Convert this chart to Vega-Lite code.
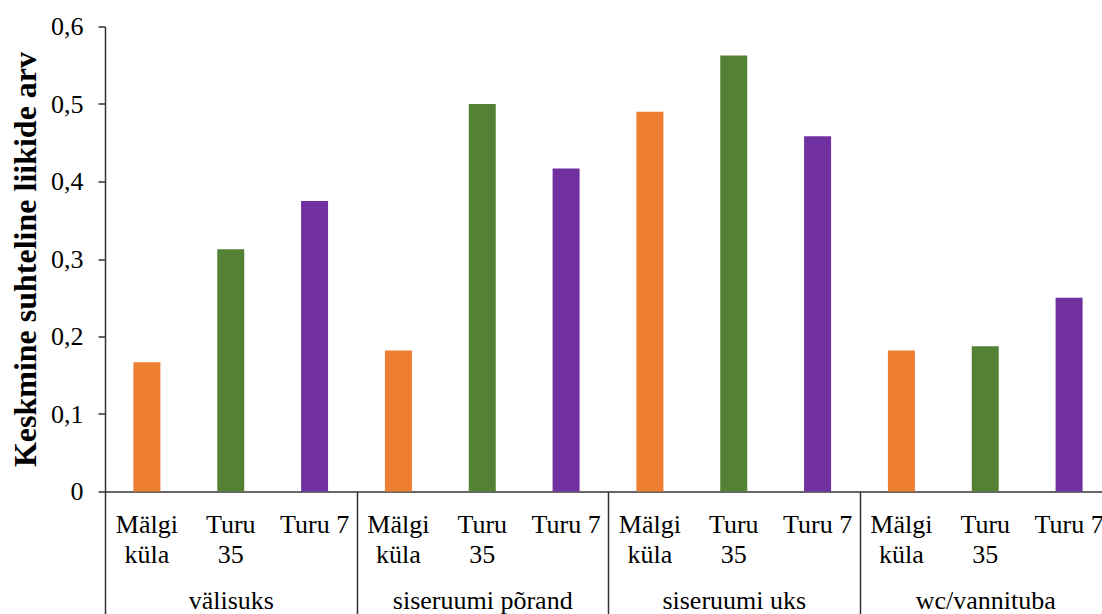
{
  "$schema": "https://vega.github.io/schema/vega-lite/v6.json",
  "width": 997,
  "height": 465,
  "autosize": {"type": "none"},
  "padding": {"left": 105, "top": 26.5, "right": 0, "bottom": 122.5},
  "background": "white",
  "config": {
    "view": {"stroke": null},
    "font": "Liberation Serif",
    "axis": {
      "grid": false,
      "domainColor": "#333333",
      "tickColor": "#333333",
      "domainWidth": 1.5,
      "tickWidth": 1.5,
      "labelColor": "#000000",
      "titleColor": "#000000",
      "labelFont": "Liberation Serif",
      "titleFont": "Liberation Serif"
    }
  },
  "data": {
    "values": [
      {"ala": "välisuks", "koht": "Mälgi küla", "silt": "Mälgi\nküla", "vaartus": 0.1667},
      {"ala": "välisuks", "koht": "Turu 35", "silt": "Turu\n35", "vaartus": 0.3125},
      {"ala": "välisuks", "koht": "Turu 7", "silt": "Turu 7", "vaartus": 0.375},
      {"ala": "siseruumi põrand", "koht": "Mälgi küla", "silt": "Mälgi\nküla", "vaartus": 0.1818},
      {"ala": "siseruumi põrand", "koht": "Turu 35", "silt": "Turu\n35", "vaartus": 0.5},
      {"ala": "siseruumi põrand", "koht": "Turu 7", "silt": "Turu 7", "vaartus": 0.4167},
      {"ala": "siseruumi uks", "koht": "Mälgi küla", "silt": "Mälgi\nküla", "vaartus": 0.49},
      {"ala": "siseruumi uks", "koht": "Turu 35", "silt": "Turu\n35", "vaartus": 0.5625},
      {"ala": "siseruumi uks", "koht": "Turu 7", "silt": "Turu 7", "vaartus": 0.4583},
      {"ala": "wc/vannituba", "koht": "Mälgi küla", "silt": "Mälgi\nküla", "vaartus": 0.1818},
      {"ala": "wc/vannituba", "koht": "Turu 35", "silt": "Turu\n35", "vaartus": 0.1875},
      {"ala": "wc/vannituba", "koht": "Turu 7", "silt": "Turu 7", "vaartus": 0.25}
    ]
  },
  "encoding": {
    "x": {
      "field": "ala",
      "type": "nominal",
      "sort": ["välisuks", "siseruumi põrand", "siseruumi uks", "wc/vannituba"],
      "scale": {"range": [0, 1006], "paddingInner": 0, "paddingOuter": 0},
      "axis": {
        "title": null,
        "labelAngle": 0,
        "tickBand": "extent",
        "tickSize": 130,
        "labelPadding": -34,
        "labelFontSize": 26
      }
    },
    "xOffset": {
      "field": "koht",
      "type": "nominal",
      "sort": ["Mälgi küla", "Turu 35", "Turu 7"],
      "scale": {"paddingInner": 0.678, "paddingOuter": 0.339}
    }
  },
  "layer": [
    {
      "mark": {"type": "bar"},
      "encoding": {
        "y": {
          "field": "vaartus",
          "type": "quantitative",
          "scale": {"domain": [0, 0.6], "nice": false},
          "axis": {
            "title": "Keskmine suhteline liikide arv",
            "titleFontSize": 32,
            "titleFontWeight": "bold",
            "titlePadding": 8,
            "values": [0, 0.1, 0.2, 0.3, 0.4, 0.5, 0.6],
            "labelExpr": "datum.value == 0 ? '0' : replace(format(datum.value, '.1f'), '.', ',')",
            "labelFontSize": 26,
            "tickSize": 7,
            "labelPadding": 15
          }
        },
        "color": {
          "field": "koht",
          "type": "nominal",
          "sort": ["Mälgi küla", "Turu 35", "Turu 7"],
          "scale": {"range": ["#ED7D31", "#548235", "#7030A0"]},
          "legend": null
        }
      }
    },
    {
      "mark": {
        "type": "text",
        "baseline": "top",
        "dy": 20,
        "fontSize": 26,
        "lineHeight": 30,
        "lineBreak": "\n",
        "color": "#000000"
      },
      "encoding": {
        "y": {"datum": 0},
        "text": {"field": "silt", "type": "nominal"}
      }
    }
  ]
}
